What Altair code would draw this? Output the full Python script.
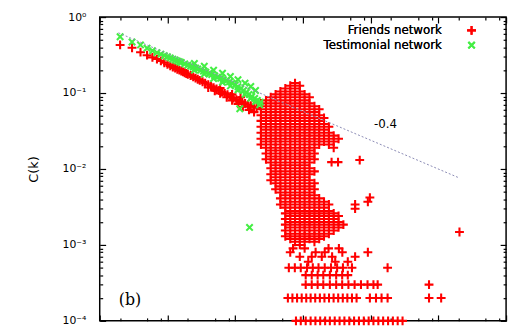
import altair as alt
import pandas as pd

# ---------------- data ----------------
series_names = ["Friends network", "Testimonial network"]
series_colors = ["#ff0000", "#44ee44"]

# Friends network: low-degree band
band_k = [2, 3, 4, 5, 6, 7, 8, 9, 10, 11, 12, 13, 14, 15, 16, 17, 18, 19, 20, 22, 24, 26, 28, 30,
          33, 36, 40, 44, 48, 53, 58, 64, 70, 77, 85, 94, 104, 115, 127, 140, 155, 170, 188, 207,
          40, 50, 60, 75, 90, 110, 130, 160, 190, 60, 90, 120]
band_c = [0.43, 0.395, 0.345, 0.315, 0.295, 0.28, 0.265, 0.25, 0.238, 0.228, 0.22, 0.213, 0.206, 0.2,
          0.195, 0.19, 0.185, 0.181, 0.177, 0.17, 0.163, 0.157, 0.152, 0.147, 0.141, 0.135, 0.129,
          0.123, 0.118, 0.113, 0.108, 0.103, 0.099, 0.095, 0.09, 0.086, 0.082, 0.079, 0.076, 0.073,
          0.07, 0.068, 0.066, 0.064,
          0.118, 0.107, 0.099, 0.088, 0.08, 0.072, 0.066, 0.06, 0.056, 0.116, 0.096, 0.088]

# Friends network: dense cloud, one list of C values per degree column
blob_k = [240, 285, 335, 395, 465, 550, 650, 765, 900, 1060, 1250, 1480, 1740, 2050, 2420, 2850, 3360, 3960]
blob_c = [
    [0.073, 0.061, 0.051, 0.043, 0.036, 0.030, 0.025, 0.021],
    [0.08, 0.067, 0.056, 0.047, 0.039, 0.033, 0.0275, 0.023, 0.019, 0.016, 0.0134],
    [0.088, 0.073, 0.061, 0.051, 0.043, 0.036, 0.030, 0.025, 0.021, 0.0175, 0.0146, 0.0122, 0.0102,
     0.0085, 0.0071],
    [0.096, 0.08, 0.067, 0.056, 0.047, 0.039, 0.033, 0.0275, 0.023, 0.019, 0.016, 0.0134, 0.0112,
     0.0093, 0.0078, 0.0065, 0.0054],
    [0.105, 0.088, 0.073, 0.061, 0.051, 0.043, 0.036, 0.030, 0.025, 0.021, 0.0175, 0.0146, 0.0122,
     0.0102, 0.0085, 0.0071, 0.0059, 0.0049, 0.0041, 0.0034],
    [0.115, 0.096, 0.08, 0.067, 0.056, 0.047, 0.039, 0.033, 0.0275, 0.023, 0.019, 0.016, 0.0134,
     0.0112, 0.0093, 0.0078, 0.0065, 0.0054, 0.0045, 0.0037, 0.0031, 0.0026, 0.0022, 0.00185,
     0.00155, 0.0013],
    [0.125, 0.105, 0.088, 0.073, 0.061, 0.051, 0.043, 0.036, 0.030, 0.025, 0.021, 0.0175, 0.0146,
     0.0122, 0.0102, 0.0085, 0.0071, 0.0059, 0.0049, 0.0041, 0.0034, 0.0028, 0.0024, 0.002, 0.0017,
     0.0014, 0.0012],
    [0.135, 0.115, 0.096, 0.08, 0.067, 0.056, 0.047, 0.039, 0.033, 0.0275, 0.023, 0.019, 0.016,
     0.0134, 0.0112, 0.0093, 0.0078, 0.0065, 0.0054, 0.0045, 0.0037, 0.0031, 0.0026, 0.0022,
     0.00185, 0.00155, 0.0013, 0.0011],
    [0.125, 0.105, 0.088, 0.073, 0.061, 0.051, 0.043, 0.036, 0.030, 0.025, 0.021, 0.0175, 0.0146,
     0.0122, 0.0102, 0.0085, 0.0071, 0.0059, 0.0049, 0.0041, 0.0034, 0.0028, 0.0024, 0.002, 0.0017,
     0.0014, 0.0012, 0.001],
    [0.096, 0.08, 0.067, 0.056, 0.047, 0.039, 0.033, 0.0275, 0.023, 0.019, 0.016, 0.0134, 0.0112,
     0.0093, 0.0078, 0.0065, 0.0054, 0.0045, 0.0037, 0.0031, 0.0026, 0.0022, 0.00185, 0.00155,
     0.0013, 0.0011],
    [0.088, 0.073, 0.061, 0.051, 0.043, 0.036, 0.030, 0.025, 0.021, 0.0175, 0.0146, 0.0122, 0.0102,
     0.0085, 0.0071, 0.0059, 0.0049, 0.0041, 0.0034, 0.0028, 0.0024, 0.002, 0.0017, 0.0014, 0.0012],
    [0.067, 0.056, 0.047, 0.039, 0.033, 0.0275, 0.023, 0.019, 0.016, 0.0134, 0.0093, 0.0065,
     0.0054, 0.0045, 0.0037, 0.0031, 0.0026, 0.0022, 0.00185, 0.00155, 0.0013, 0.0011],
    [0.061, 0.051, 0.043, 0.036, 0.030, 0.025, 0.021,
     0.0041, 0.0034, 0.0028, 0.0024, 0.002, 0.0017, 0.0014, 0.0012],
    [0.047, 0.039, 0.033, 0.0275, 0.023,
     0.0037, 0.0031, 0.0026, 0.0022, 0.00185, 0.00155, 0.0013],
    [0.036, 0.030, 0.025, 0.021,
     0.0034, 0.0028, 0.0024, 0.002, 0.0017, 0.0014],
    [0.0275, 0.023, 0.019,
     0.0026, 0.0022, 0.00185, 0.00155],
    [0.025, 0.0024, 0.002, 0.0017],
    [0.00185],
]

# Friends network: sparse points at low clustering and outliers
low_k = [715, 900, 1200, 1540, 1900, 2390, 3000, 3820, 4600, 5900, 9100,
         650, 1060, 1350, 2100, 2700, 3400,
         620, 760, 930, 1150, 1400, 1700, 2100, 2600, 3200, 3900, 5300, 17800,
         1100, 1350, 1650, 2000, 2500, 3100, 3800, 4600,
         1100, 1350, 1650, 2000, 2500, 3100, 3800, 4700, 5800, 7200, 9000, 11000, 12700, 72800,
         600, 700, 820, 960, 1120, 1300, 1520, 1780, 2080, 2430, 2840, 3320, 3880, 4530, 5300, 6200,
         9750, 12000, 14500, 17800, 72800, 110000,
         790, 930, 1100, 1300, 1530, 1800, 2130, 2500, 2950, 3480, 4100, 4840, 5700, 6720, 7930,
         9350, 11000, 13000, 15300, 18100, 21300, 25100, 29600,
         2650, 3300, 6900, 9750, 5900, 205000, 5900, 9100]
low_c = [0.0009, 0.0007, 0.0006, 0.0008, 0.0007, 0.0009, 0.0006, 0.0008, 0.0006, 0.0007, 0.0008,
         0.0008, 0.0009, 0.0007, 0.0008, 0.0007, 0.0009,
         0.0005, 0.0005, 0.0005, 0.0005, 0.0005, 0.0005, 0.0005, 0.0005, 0.0005, 0.0005, 0.0005, 0.0005,
         0.0004, 0.0004, 0.0004, 0.0004, 0.0004, 0.0004, 0.0004, 0.0004,
         0.0003, 0.0003, 0.0003, 0.0003, 0.0003, 0.0003, 0.0003, 0.0003, 0.0003, 0.0003, 0.0003,
         0.0003, 0.0003, 0.0003,
         0.0002, 0.0002, 0.0002, 0.0002, 0.0002, 0.0002, 0.0002, 0.0002, 0.0002, 0.0002, 0.0002,
         0.0002, 0.0002, 0.0002, 0.0002, 0.0002, 0.0002, 0.0002, 0.0002, 0.0002, 0.0002, 0.0002,
         0.0001, 0.0001, 0.0001, 0.0001, 0.0001, 0.0001, 0.0001, 0.0001, 0.0001, 0.0001, 0.0001,
         0.0001, 0.0001, 0.0001, 0.0001, 0.0001, 0.0001, 0.0001, 0.0001, 0.0001, 0.0001, 0.0001,
         0.0001,
         0.0123, 0.0123, 0.0131, 0.0042, 0.0034, 0.00148, 0.003, 0.0037]

# Testimonial network
green_k = [2, 3, 4, 5, 6, 7, 8, 9, 10, 11, 12, 13, 14, 15, 16, 18, 20, 22, 24, 26, 28, 31, 34, 37,
           41, 45, 50, 55, 61, 67, 74, 82, 90, 100, 110, 121, 133, 146, 160, 176, 194, 213, 235,
           25, 35, 48, 65, 85, 110, 140, 170, 200,
           25, 35, 48, 65, 85, 110, 140, 170, 200, 230,
           117, 163]
green_c = [0.55, 0.47, 0.43, 0.39, 0.36, 0.34, 0.325, 0.31, 0.3, 0.29, 0.28, 0.272, 0.265, 0.258,
           0.252, 0.242, 0.233, 0.226, 0.22, 0.214, 0.208, 0.2, 0.194, 0.188, 0.181, 0.175, 0.168,
           0.162, 0.156, 0.15, 0.145, 0.14, 0.135, 0.128, 0.121, 0.114, 0.108, 0.102, 0.096, 0.09,
           0.085, 0.08, 0.076,
           0.245, 0.225, 0.2, 0.182, 0.165, 0.15, 0.135, 0.122, 0.108,
           0.2, 0.178, 0.155, 0.138, 0.124, 0.11, 0.096, 0.085, 0.077, 0.07,
           0.062, 0.0017]

# power-law guide line with exponent -0.4
fit_k = [1.89, 205000]
fit_c = [0.62, 0.0076]

slope_k = [16600]
slope_c = [0.039]
slope_text = ["-0.4"]

panel_k = [2.8]
panel_c = [0.000187]
panel_text = ["(b)"]

x_major = [1, 10, 100, 1000, 10000, 100000, 1000000]
x_minor = [2, 5, 8, 20, 50, 80, 200, 500, 800, 2000, 5000, 8000,
           20000, 50000, 80000, 200000, 500000, 800000]
y_major = [0.0001, 0.001, 0.01, 0.1, 1]
y_minor = [0.0002, 0.0003, 0.0004, 0.0005, 0.0006, 0.0007, 0.0008, 0.0009,
           0.002, 0.003, 0.004, 0.005, 0.006, 0.007, 0.008, 0.009,
           0.02, 0.03, 0.04, 0.05, 0.06, 0.07, 0.08, 0.09,
           0.2, 0.3, 0.4, 0.5, 0.6, 0.7, 0.8, 0.9]

# ---------------- tables ----------------
rows = []
for k, c in zip(band_k, band_c):
    rows.append({"k": k, "C": c, "series": series_names[0]})
for k, cs in zip(blob_k, blob_c):
    for c in cs:
        rows.append({"k": k, "C": c, "series": series_names[0]})
for k, c in zip(low_k, low_c):
    rows.append({"k": k, "C": c, "series": series_names[0]})
for k, c in zip(green_k, green_c):
    rows.append({"k": k, "C": c, "series": series_names[1]})
pts = pd.DataFrame(rows)

fit_df = pd.DataFrame({"k": fit_k, "C": fit_c})
slope_df = pd.DataFrame({"k": slope_k, "C": slope_c, "label": slope_text})
panel_df = pd.DataFrame({"k": panel_k, "C": panel_c, "label": panel_text})

# ---------------- scales / axes ----------------
xscale = alt.Scale(type="log", domain=[1, 1000000], nice=False)
yscale = alt.Scale(type="log", domain=[0.0001, 1], nice=False)

y_label_expr = "'10' + ['\u207b\u2074','\u207b\u00b3','\u207b\u00b2','\u207b\u00b9','\u2070'][round(log(datum.value)/LN10) + 4]"
x_label_expr = "'10' + ['\u2070','\u00b9','\u00b2','\u00b3','\u2074','\u2075','\u2076'][round(log(datum.value)/LN10)]"

ax_bottom_major = alt.Axis(orient="bottom", values=x_major, tickSize=6, offset=-6,
                           labelExpr=x_label_expr, labelPadding=10, title="k")
ax_top_major = alt.Axis(orient="top", values=x_major, tickSize=6, offset=-6, labels=False, title=None)
ax_bottom_minor = alt.Axis(orient="bottom", values=x_minor, tickSize=3, offset=-3, labels=False, title=None)
ax_top_minor = alt.Axis(orient="top", values=x_minor, tickSize=3, offset=-3, labels=False, title=None)

ax_left_major = alt.Axis(orient="left", values=y_major, tickSize=6, offset=-6,
                         labelExpr=y_label_expr, labelPadding=14, title="C(k)", titlePadding=22)
ax_right_major = alt.Axis(orient="right", values=y_major, tickSize=6, offset=-6, labels=False, title=None)
ax_left_minor = alt.Axis(orient="left", values=y_minor, tickSize=3, offset=-3, labels=False, title=None)
ax_right_minor = alt.Axis(orient="right", values=y_minor, tickSize=3, offset=-3, labels=False, title=None)

plus_path = "M-1,0L1,0M0,-1L0,1"
x_path = "M-1,-1L1,1M-1,1L1,-1"
series_shapes = [plus_path, x_path]
series_sizes = [81, 42]

points = alt.Chart(pts).mark_point(filled=False, strokeWidth=2.1, opacity=1).encode(
    x=alt.X("k:Q", scale=xscale, axis=ax_bottom_major),
    y=alt.Y("C:Q", scale=yscale, axis=ax_left_major),
    color=alt.Color("series:N", scale=alt.Scale(domain=series_names, range=series_colors), legend=None),
    shape=alt.Shape("series:N", scale=alt.Scale(domain=series_names, range=series_shapes), legend=None),
    size=alt.Size("series:N", scale=alt.Scale(domain=series_names, range=series_sizes), legend=None),
)

fitline = alt.Chart(fit_df).mark_line(color="#8a8ab4", strokeWidth=1, strokeDash=[2, 2]).encode(
    x=alt.X("k:Q", scale=xscale, axis=ax_top_major),
    y=alt.Y("C:Q", scale=yscale, axis=ax_right_major),
)

slope_txt = alt.Chart(slope_df).mark_text(font="DejaVu Sans", fontSize=12, color="black").encode(
    x=alt.X("k:Q", scale=xscale, axis=ax_bottom_minor),
    y=alt.Y("C:Q", scale=yscale, axis=ax_left_minor),
    text="label:N",
)

panel_txt = alt.Chart(panel_df).mark_text(font="DejaVu Serif", fontSize=16, color="black").encode(
    x=alt.X("k:Q", scale=xscale, axis=ax_top_minor),
    y=alt.Y("C:Q", scale=yscale, axis=ax_right_minor),
    text="label:N",
)

# key in the top-right corner (gnuplot style: label, then sample symbol)
key_layers = []
for i, name in enumerate(series_names):
    row_y = 13.5 + 15 * i
    key_layers.append(
        alt.Chart(fit_df).mark_text(align="right", baseline="middle", font="DejaVu Sans",
                                    fontSize=12, color="black").encode(
            x=alt.value(347), y=alt.value(row_y), text=alt.value(name))
    )
    key_layers.append(
        alt.Chart(fit_df).mark_point(filled=False, strokeWidth=2.1, opacity=1,
                                     shape=series_shapes[i], size=series_sizes[i],
                                     color=series_colors[i]).encode(
            x=alt.value(377), y=alt.value(row_y))
    )

chart = alt.layer(points, fitline, slope_txt, panel_txt, *key_layers).resolve_axis(
    x="independent", y="independent"
).properties(
    width=412, height=308,
    autosize=alt.AutoSizeParams(type="none"),
    padding={"left": 93, "top": 7, "right": 6, "bottom": 3},
).configure_view(
    stroke="black", strokeWidth=1.5
).configure_axis(
    grid=False, domain=False, tickColor="black", tickWidth=1.2,
    labelFont="DejaVu Sans", labelFontSize=11, labelColor="black",
    titleFont="DejaVu Sans", titleFontSize=13, titleFontWeight="normal", titleColor="black",
)

chart.save("out.html", embed_options={"renderer": "svg", "actions": False})
